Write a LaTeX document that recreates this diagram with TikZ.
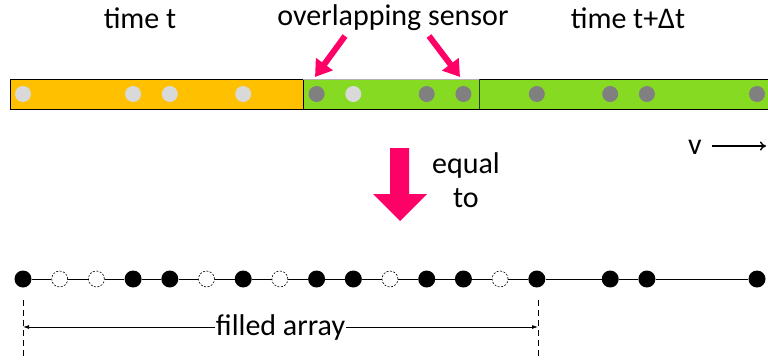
\documentclass[tikz,border=0pt]{standalone}
\usepackage{fontspec}
\setmainfont{Carlito}
\usetikzlibrary{arrows.meta}

\definecolor{barorange}{HTML}{FFC000}
\definecolor{bargreen}{HTML}{86DB22}
\definecolor{hotpink}{HTML}{FF0066}
\definecolor{dotlight}{HTML}{D9D9D9}
\definecolor{dotdark}{HTML}{808080}

\tikzset{
  label/.style={font=\fontsize{30}{34}\selectfont, inner sep=0pt, anchor=base},
  sensorlight/.style={circle, fill=dotlight, minimum size=16pt, inner sep=0pt},
  sensordark/.style={circle, fill=dotdark, minimum size=16pt, inner sep=0pt},
  filled/.style={circle, fill=black, minimum size=17pt, inner sep=0pt},
  missing/.style={circle, draw=black, dashed, dash pattern=on 2pt off 1.5pt, fill=white, line width=0.6pt, minimum size=16pt, inner sep=0pt},
  pointer/.style={hotpink, line width=6pt, -{Triangle[length=16pt,width=20pt]}},
  span/.style={line width=0.8pt, {Latex[length=6pt,width=4pt]}-{Latex[length=6pt,width=4pt]}},
}

\begin{document}
\begin{tikzpicture}[x=1pt,y=-1pt]
\useasboundingbox (0,0) rectangle (768,362);
% sensor bar
\draw[fill=barorange, line width=0.8pt] (10,79) rectangle (303,109);
\draw[fill=bargreen, line width=0.8pt] (303,79) rectangle (772,109);
\draw[line width=0.8pt, gray!60] (303,79) -- (479,79);
\draw[line width=1pt, black!70!bargreen] (479,79) -- (479,109);
\foreach \i in {0,3,4,6,9}
  \node[sensorlight] (s\i) at (23+36.7*\i,94) {};
\foreach \i in {8,11,12,14,16,17,20}
  \node[sensordark] (s\i) at (23+36.7*\i,94) {};
% labels
\node[label] (tt) at (140,28) {time t};
\node[label] (ov) at (393,25) {overlapping sensor};
\node[label] (tdt) at (628,28) {time t+Δt};
\coordinate (ovl) at (315,77);
\coordinate (ovr) at (460,77);
\draw[pointer] (345,36) -- (ovl);
\draw[pointer] (429,36) -- (ovr);
% velocity
\node[label] (v) at (695,154) {v};
\coordinate (vend) at (766,146);
\draw[line width=1.4pt, -{To[length=6pt,width=9pt]}] (712,146) -- (vend);
% equal to
\fill[hotpink] (390,148) -- (409,148) -- (409,194) -- (427,194) -- (400,221)
  -- (373,194) -- (390,194) -- cycle;
\node[label, align=center] (eq) at (466,207) {equal\\to};
% filled array
\foreach \i in {0,3,4,6,8,9,11,12,14,16,17,20}
  \node[filled] (d\i) at (23+36.7*\i,279) {};
\foreach \i in {1,2,5,7,10,13}
  \node[missing] (d\i) at (23+36.7*\i,279) {};
\foreach \i [remember=\i as \j (initially 0)] in {1,...,14,16,17,20}
  \draw[line width=0.8pt] (d\j) -- (d\i);
\coordinate (la) at (23,300);
\coordinate (lb) at (23,357);
\coordinate (ra) at (538,300);
\coordinate (rb) at (538,357);
\draw[dashed, dash pattern=on 6pt off 4pt, line width=0.7pt] (la) -- (lb) (ra) -- (rb);
\coordinate (fl) at (23,327);
\coordinate (fr) at (538,327);
\draw[span] (fl) -- (fr) node[midway, fill=white, inner sep=1pt, font=\fontsize{30}{34}\selectfont] (fa) {filled array};
\end{tikzpicture}
\end{document}
